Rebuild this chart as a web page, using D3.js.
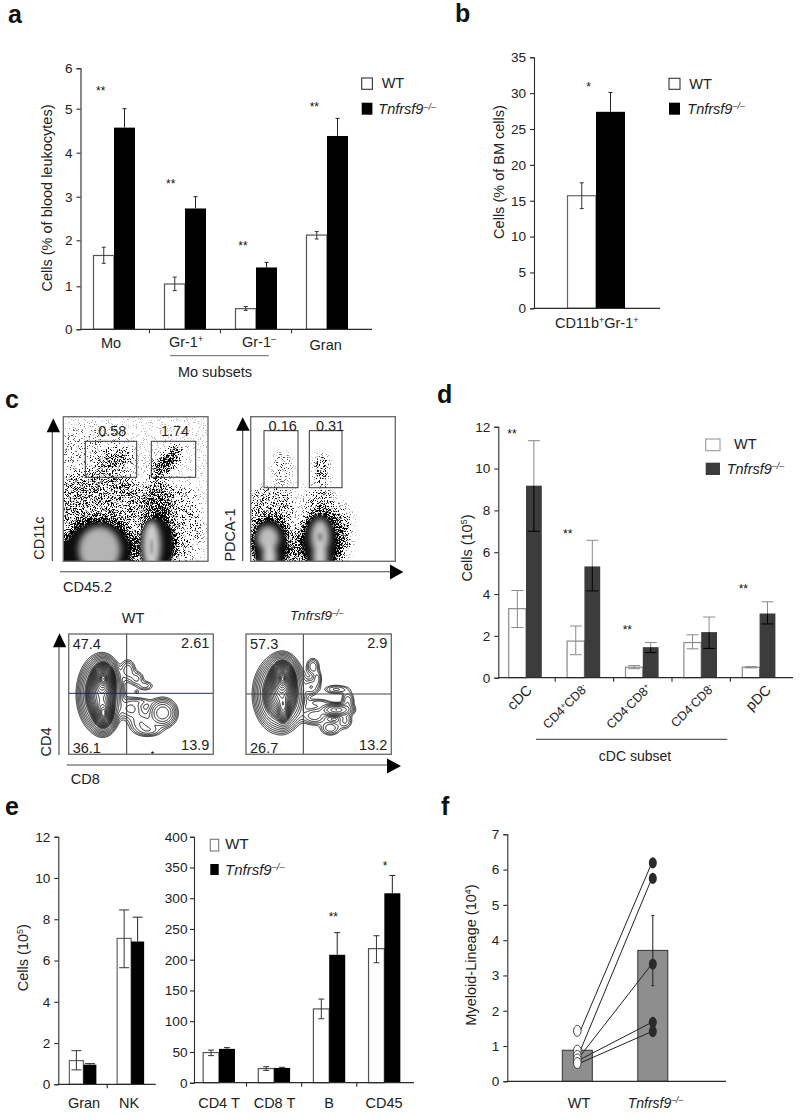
<!DOCTYPE html>
<html><head><meta charset="utf-8">
<style>
html,body{margin:0;padding:0;background:#fff}
svg{display:block}
text{font-family:"Liberation Sans",Arial,sans-serif;fill:#222}
</style>
<script src="https://cdn.jsdelivr.net/npm/d3@7"></script>
</head><body>
<svg id="fig" width="800" height="1119" xmlns="http://www.w3.org/2000/svg"></svg>
<script>
// ---------- DATA ----------
const aCategories = ["Mo","Gr-1+","Gr-1-","Gran"];
const aWT     = [1.67,1.05,0.48,2.12];
const aWTHi   = [1.85,1.20,0.53,2.20];
const aWTLo   = [1.50,0.90,0.44,2.03];
const aKO     = [4.57,2.73,1.41,4.38];
const aKOHi   = [5.00,3.00,1.52,4.78];
const aTicks  = [0,1,2,3,4,5,6];

const bWT = [15.7]; const bWTHi = [17.5]; const bWTLo = [13.9];
const bKO = [27.4]; const bKOHi = [30.1];
const bTicks = [0,5,10,15,20,25,30,35];

const dCategories = ["cDC","CD4+CD8-","CD4-CD8+","CD4-CD8-","pDC"];
const dWT   = [3.30,1.75,0.50,1.68,0.50];
const dWTHi = [4.17,2.47,0.58,2.05,0.53];
const dWTLo = [2.40,1.10,0.43,1.38,0.47];
const dKO   = [9.18,5.32,1.46,2.18,3.07];
const dKOHi = [11.33,6.57,1.68,2.90,3.63];
const dKOLo = [7.00,4.15,1.20,1.40,2.57];
const dTicks = [0,2,4,6,8,10,12];

const e1Categories = ["Gran","NK"];
const e1WT = [1.15,7.07]; const e1WTHi=[1.63,8.45]; const e1WTLo=[0.70,5.65];
const e1KO = [0.95,6.92]; const e1KOHi=[1.00,8.10];
const e1Ticks = [0,2,4,6,8,10,12];

const e2Categories = ["CD4 T","CD8 T","B","CD45"];
const e2WT = [49,23,120,218]; const e2WTHi=[53,26,136,239]; const e2WTLo=[44,20,104,195];
const e2KO = [55,24,208,308]; const e2KOHi=[57,25,244,337];
const e2Ticks = [0,50,100,150,200,250,300,350,400];

const fCategories = ["WT","Tnfrsf9"];
const fMeans = [0.88,3.71];
const fKOHi = 4.70, fKOLo = 2.71;
const fPairsWT = [1.43,0.87,0.72,0.62,0.52];
const fPairsKO = [6.19,5.75,3.32,1.67,1.41];
const fTicks = [0,1,2,3,4,5,6,7];

const cGatesTop = ["0.58","1.74"];
const cGatesPdc = ["0.16","0.31"];
const cWTQuad = ["47.4","2.61","36.1","13.9"];
const cKOQuad = ["57.3","2.9","26.7","13.2"];

// flow plots: density blobs [u, v, radiusU, radiusV, rotation, density] in unit plot space
const cd11cCloud = [
 [.50,.55,.75,.70,0,.07],[.20,.30,.30,.24,0,.12],[.25,.60,.33,.22,0,.42],[.82,.74,.13,.26,0,.24],
 [.657,.60,.09,.17,0,.66],[.345,.30,.12,.06,-10,.55],[.70,.33,.12,.045,-45,1],[.72,.30,.13,.03,-45,1],
 [.24,.92,.27,.23,0,.95],[.645,.88,.135,.22,0,.95],[.12,1,.2,.2,0,.9]];
const cd11cSolid = [[.24,.93,.225,.2,0],[.645,.89,.115,.19,0],[.1,1,.12,.18,0]];
const cd11cGray = [[.25,.92,.145,.16,0,"#b4b4b4"],[.61,.89,.062,.17,0,"#cfcfcf"]];
const cd11cDark = [[.61,.90,.012,.06,0,"#9a9a9a"]];
const pdcaCloud = [
 [.30,.70,.42,.24,0,.08],[.13,.63,.16,.14,0,.34],[.48,.62,.09,.13,0,.34],
 [.49,.37,.04,.11,0,.55],[.215,.35,.065,.11,0,.24],[.62,.80,.08,.18,0,.3],
 [.135,.87,.15,.2,0,.9],[.49,.86,.16,.21,0,.95],[.31,.98,.07,.14,0,.42]];
const pdcaSolid = [[.134,.89,.115,.175,0],[.48,.87,.115,.19,0]];
const pdcaGray = [[.12,.84,.075,.085,0,"#bdbdbd"],[.13,.97,.05,.08,0,"#cfcfcf"],[.48,.83,.065,.12,0,"#c2c2c2"],[.48,.97,.05,.08,0,"#cfcfcf"]];
const pdcaDark = [[.48,.83,.018,.03,0,"#8f8f8f"]];

// contour plots: mixture [u, v, sigmaU, sigmaV, weight] in unit plot space
const wtContour = [
 [.22,.50,.057,.113,1.0],[.24,.37,.036,.062,1.6],[.24,.66,.034,.062,1.0],[.24,.37,.012,.025,1.2],[.24,.66,.012,.03,.5],
 [.65,.655,.048,.058,.16],[.43,.62,.05,.05,.06],[.50,.74,.05,.05,.05],[.56,.80,.05,.03,.04],
 [.41,.30,.03,.05,.05],[.47,.37,.03,.035,.04],[.53,.43,.035,.025,.03],[.50,.56,.05,.02,.02],
 [.47,.48,.013,.013,.016],[.58,.985,.008,.006,.02]];
const koContour = [
 [.235,.50,.065,.113,1.0],[.252,.37,.038,.068,1.8],[.257,.62,.022,.06,.6],[.252,.37,.012,.028,1.2],
 [.62,.63,.055,.026,.2],[.46,.27,.025,.04,.05],[.49,.37,.018,.04,.04],[.45,.44,.03,.04,.05],
 [.62,.46,.05,.022,.04],[.70,.56,.025,.05,.05],[.68,.72,.03,.04,.04],[.58,.78,.04,.035,.05],
 [.47,.68,.05,.04,.07],[.50,.57,.05,.02,.03]];

// ---------- HELPERS ----------
const svg = d3.select("#fig");
svg.append("rect").attr("width",800).attr("height",1119).attr("fill","#fff");
const INK="#2b2b2b";

function rich(g,parts,x,y,opt={}){
  const t=g.append("text").attr("x",x).attr("y",y)
    .attr("font-size",opt.size||14).attr("text-anchor",opt.anchor||"start");
  if(opt.rotate!=null) t.attr("transform",`rotate(${opt.rotate} ${x} ${y})`);
  parts.forEach(p=>{
    if(typeof p==="string"){ t.append("tspan").text(p); return; }
    const s=t.append("tspan").text(p.t);
    if(p.i) s.attr("font-style","italic");
    if(p.sup){ s.attr("font-size",(opt.size||14)*.62).attr("dy",-(opt.size||14)*.32); }
  });
  return t;
}
const sup=(t)=>({t,sup:true});
const koParts=()=>[{t:"Tnfrsf9",i:true},{t:"–/–",i:true,sup:true}];

function yAxis(g,x,y,ticks,pad){
  const ax=g.append("g").attr("transform",`translate(${x},0)`)
    .call(d3.axisLeft(y).tickValues(ticks).tickSize(4).tickSizeOuter(4).tickPadding(pad||4).tickFormat(d3.format("d")));
  ax.selectAll("path,line").attr("stroke",INK).attr("stroke-width",1.1);
  ax.selectAll("text").attr("font-size",13.6).style("font-family",'"Liberation Sans",Arial,sans-serif').style("fill","#222");
}
function xBase(g,band,y0,x0,x1){
  g.append("line").attr("x1",x0).attr("x2",x1).attr("y1",y0).attr("y2",y0).attr("stroke",INK).attr("stroke-width",1.2);
  g.selectAll(null).data(band.domain().slice(1)).join("line")
    .attr("x1",d=>band(d)).attr("x2",d=>band(d)).attr("y1",y0).attr("y2",y0+4).attr("stroke",INK).attr("stroke-width",1.1);
}
function bars(g,cats,band,y,wt,ko,wHi,wLo,kHi,kLo,o){
  const wL=o.wL, wR=o.wR, y0=y(0);
  const rows=cats.map((c,i)=>({c,i}));
  g.selectAll(null).data(rows).join("rect")
    .attr("x",d=>band(d.c)+band.bandwidth()/2-wL).attr("width",wL)
    .attr("y",d=>y(wt[d.i])).attr("height",d=>y0-y(wt[d.i]))
    .attr("fill","#fff").attr("stroke",o.wtStroke||"#555").attr("stroke-width",1.2);
  const wc=d=>band(d.c)+band.bandwidth()/2-wL/2;
  g.selectAll(null).data(rows).join("line")
    .attr("x1",wc).attr("x2",wc).attr("y1",d=>y(wHi[d.i])).attr("y2",d=>y(wLo[d.i]))
    .attr("stroke",o.wtErr||"#333").attr("stroke-width",1);
  [wHi,wLo].forEach(arr=>{
    g.selectAll(null).data(rows).join("line")
      .attr("x1",d=>wc(d)-o.cap).attr("x2",d=>wc(d)+o.cap)
      .attr("y1",d=>y(arr[d.i])).attr("y2",d=>y(arr[d.i]))
      .attr("stroke",o.wtErr||"#333").attr("stroke-width",1);
  });
  g.selectAll(null).data(rows).join("rect")
    .attr("x",d=>band(d.c)+band.bandwidth()/2).attr("width",wR)
    .attr("y",d=>y(ko[d.i])).attr("height",d=>y0-y(ko[d.i]))
    .attr("fill",o.koFill||"#000");
  const kc=d=>band(d.c)+band.bandwidth()/2+wR/2;
  g.selectAll(null).data(rows).join("line")
    .attr("x1",kc).attr("x2",kc).attr("y1",d=>y(kHi[d.i])).attr("y2",d=>y(ko[d.i]))
    .attr("stroke",o.koErr||"#222").attr("stroke-width",1);
  g.selectAll(null).data(rows).join("line")
    .attr("x1",d=>kc(d)-o.cap).attr("x2",d=>kc(d)+o.cap)
    .attr("y1",d=>y(kHi[d.i])).attr("y2",d=>y(kHi[d.i]))
    .attr("stroke",o.koErr||"#222").attr("stroke-width",1);
  if(kLo){
    g.selectAll(null).data(rows).join("line")
      .attr("x1",kc).attr("x2",kc).attr("y1",d=>y(ko[d.i])).attr("y2",d=>y(kLo[d.i]))
      .attr("stroke","#000").attr("stroke-width",1);
    g.selectAll(null).data(rows).join("line")
      .attr("x1",d=>kc(d)-o.cap).attr("x2",d=>kc(d)+o.cap)
      .attr("y1",d=>y(kLo[d.i])).attr("y2",d=>y(kLo[d.i]))
      .attr("stroke","#000").attr("stroke-width",1);
  }
}
function legend(g,bx,bw,yW,hW,yK,hK,wtX,wtY,koX,koY,o={}){
  g.append("rect").attr("x",bx).attr("y",yW).attr("width",bw).attr("height",hW)
    .attr("fill","#fff").attr("stroke",o.stroke||"#333").attr("stroke-width",1.1);
  g.append("rect").attr("x",bx).attr("y",yK).attr("width",bw).attr("height",hK).attr("fill",o.koFill||"#000");
  rich(g,["WT"],wtX,wtY,{size:o.wtSize||14.5});
  rich(g,koParts(),koX,koY,{size:o.koSize||14.5});
}
function stars(g,s,x,y){
  g.append("text").attr("x",x).attr("y",y+4).attr("text-anchor","middle").attr("font-size",12).style("fill","#111").text(s);
}
function panelLetter(t,x,y){
  svg.append("text").attr("x",x).attr("y",y).attr("font-size",25).attr("font-weight","bold").style("fill","#111").text(t);
}
panelLetter("a",8,23);panelLetter("b",455,22);panelLetter("c",5,408);
panelLetter("d",437,403);panelLetter("e",5,815);panelLetter("f",441,815);

// ---------- PANEL a ----------
{
 const g=svg.append("g");
 // the printed axis is slightly uneven, so its ticks are matched one by one
 const y=d3.scaleLinear().domain(aTicks).range([329.3,286.3,240.3,196.7,152.7,108.7,68.3]);
 const x=d3.scaleBand().domain(aCategories).range([78.5,362.5]);
 bars(g,aCategories,x,y,aWT,aKO,aWTHi,aWTLo,aKOHi,null,{wL:20.5,wR:21,cap:2});
 yAxis(g,80.5,y,aTicks,4);
 xBase(g,x,y(0),80.5,372);
 rich(g,["Mo"],111,348,{anchor:"middle",size:14.5});
 rich(g,["Gr-1",sup("+")],186,347,{anchor:"middle",size:14.5});
 rich(g,["Gr-1",sup("–")],259,347,{anchor:"middle",size:14.5});
 rich(g,["Gran"],325.7,350,{anchor:"middle",size:14.5});
 g.append("line").attr("x1",170).attr("x2",268.7).attr("y1",355.7).attr("y2",355.7).attr("stroke","#666").attr("stroke-width",1);
 rich(g,["Mo subsets"],215,376.7,{anchor:"middle",size:14.5});
 rich(g,["Cells (% of blood leukocytes)"],52,198,{anchor:"middle",rotate:-90,size:14.5});
 [["**",100.7,91],["**",170.7,184],["**",243,246],["**",314.3,107]].forEach(s=>stars(g,...s));
 legend(g,361.7,10.7,78,11.3,102.7,12,381.7,88.3,378.3,114.3);
}
// ---------- PANEL b ----------
{
 const g=svg.append("g");
 const y=d3.scaleLinear().domain([0,35]).range([308.3,57.3]);
 const cat=["CD11b+Gr-1+"];
 const x=d3.scaleBand().domain(cat).range([567,625]);
 bars(g,cat,x,y,bWT,bKO,bWTHi,bWTLo,bKOHi,null,{wL:28.5,wR:29,cap:2,wtStroke:"#666"});
 yAxis(g,534,y,bTicks,4);
 g.append("line").attr("x1",534).attr("x2",660).attr("y1",y(0)).attr("y2",y(0)).attr("stroke",INK).attr("stroke-width",1.2);
 rich(g,["CD11b",sup("+"),{t:"Gr-1"},sup("+")],596.7,328,{anchor:"middle",size:14.5}).selectAll("tspan")
   .filter((d,i)=>i===2).attr("dy",14.5*.32);
 rich(g,["Cells (% of BM cells)"],504,172,{anchor:"middle",rotate:-90,size:14.5});
 stars(g,"*",588.7,87);
 legend(g,669,11,78.3,11,102.7,12,689.3,88.7,687.3,114);
}
// ---------- PANEL c ----------
const defs=svg.append("defs");
function speckFilter(id,blur,seed){
 const f=defs.append("filter").attr("id",id).attr("filterUnits","userSpaceOnUse")
   .attr("x",0).attr("y",380).attr("width",420).attr("height",200)
   .attr("color-interpolation-filters","sRGB");
 f.append("feGaussianBlur").attr("in","SourceAlpha").attr("stdDeviation",blur).attr("result","d");
 f.append("feTurbulence").attr("type","fractalNoise").attr("baseFrequency",1.37).attr("numOctaves",1).attr("seed",seed).attr("result","n");
 f.append("feColorMatrix").attr("in","n").attr("type","matrix")
   .attr("values","0 0 0 0 0  0 0 0 0 0  0 0 0 0 0  3.2 0 0 0 -1.1").attr("result","na");
 f.append("feComposite").attr("in","d").attr("in2","na").attr("operator","arithmetic")
   .attr("k1",0).attr("k2",1).attr("k3",1).attr("k4",-1).attr("result","m");
 const t=f.append("feComponentTransfer").attr("in","m").attr("result","hard");
 t.append("feFuncA").attr("type","linear").attr("slope",4).attr("intercept",0);
 f.append("feGaussianBlur").attr("in","hard").attr("stdDeviation",.38);
}
speckFilter("speck1",4,4);speckFilter("speck2",4,11);
const gb=defs.append("filter").attr("id","soft").attr("x","-50%").attr("y","-50%").attr("width","200%").attr("height","200%");
gb.append("feGaussianBlur").attr("stdDeviation",3);
const gb2=defs.append("filter").attr("id","soft2").attr("x","-80%").attr("y","-80%").attr("width","260%").attr("height","260%");
gb2.append("feGaussianBlur").attr("stdDeviation",1.6);

function flowPlot(id,x0,x1,y0,y1,cloud,solid,gray,dark,gates,labels,filter,labelY){
 const u=d3.scaleLinear().domain([0,1]).range([x0,x1]);
 const v=d3.scaleLinear().domain([0,1]).range([y0,y1]);
 defs.append("clipPath").attr("id",id).append("rect").attr("x",x0).attr("y",y0).attr("width",x1-x0).attr("height",y1-y0);
 const outer=svg.append("g").attr("clip-path",`url(#${id})`);
 const ell=(g,rows,fillFn)=>g.selectAll(null).data(rows).join("ellipse")
   .attr("rx",d=>u(d[2])-u(0)).attr("ry",d=>v(d[3])-v(0))
   .attr("transform",d=>`translate(${u(d[0])},${v(d[1])}) rotate(${d[4]})`)
   .attr("fill",fillFn);
 const sp=outer.append("g").attr("filter",`url(#${filter})`);
 ell(sp,cloud,"#000").attr("opacity",d=>d[5]);
 ell(outer.append("g").attr("filter","url(#soft2)"),solid,"#0a0a0a");
 ell(outer.append("g").attr("filter","url(#soft)"),gray,d=>d[5]);
 ell(outer.append("g").attr("filter","url(#soft2)"),dark,d=>d[5]);
 svg.append("rect").attr("x",x0).attr("y",y0).attr("width",x1-x0).attr("height",y1-y0)
   .attr("fill","none").attr("stroke","#6f6f6f").attr("stroke-width",1.4);
 gates.forEach(r=>svg.append("rect").attr("x",r[0]).attr("y",r[2]).attr("width",r[1]-r[0]).attr("height",r[3]-r[2])
   .attr("fill","none").attr("stroke","#333").attr("stroke-width",1));
 labels.forEach(l=>rich(svg,[l[0]],l[1],labelY,{anchor:"middle",size:14.5}));
}
flowPlot("clip1",63.3,208,416.7,561.3,cd11cCloud,cd11cSolid,cd11cGray,cd11cDark,
 [[85.3,136.7,441.3,477.3],[151.3,195.7,441.3,477.3]],
 [[cGatesTop[0],112.3],[cGatesTop[1],175]],"speck1",436);
flowPlot("clip2",250.7,395.3,416.7,561.3,pdcaCloud,pdcaSolid,pdcaGray,pdcaDark,
 [[264,298,430.7,487.7],[309.3,342,430.7,487.7]],
 [[cGatesPdc[0],282.7],[cGatesPdc[1],330]],"speck2",430.7);

function contourPlot(x0,x1,y0,y1,mix,vx,hy,hColor,quad){
 const nx=Math.round((x1-x0)*2), ny=Math.round((y1-y0)*2);
 const vals=new Float64Array(nx*ny);
 for(let j=0;j<ny;j++)for(let i=0;i<nx;i++){
  const a=(i+.5)/nx,b=(j+.5)/ny;
  let s=0;
  mix.forEach(m=>{const dx=(a-m[0])/m[2],dy=(b-m[1])/m[3];s+=m[4]*Math.exp(-.5*(dx*dx+dy*dy));});
  vals[j*nx+i]=s;
 }
 const th=d3.range(0,8).map(k=>.012*Math.pow(1.45,k)).concat(d3.range(0,22).map(k=>.2*Math.pow(1.15,k)));
 const cs=d3.contours().size([nx,ny]).smooth(true).thresholds(th)(vals);
 const proj=d3.geoTransform({point(px,py){this.stream.point(x0+px/2,y0+py/2);}});
 const path=d3.geoPath(proj);
 svg.append("g").selectAll("path").data(cs).join("path").attr("d",path)
   .attr("fill","none").attr("stroke","#111").attr("stroke-width",.95);
 svg.append("line").attr("x1",vx).attr("x2",vx).attr("y1",y0).attr("y2",y1).attr("stroke","#333").attr("stroke-width",1);
 svg.append("line").attr("x1",x0).attr("x2",x1).attr("y1",hy).attr("y2",hy).attr("stroke",hColor).attr("stroke-width",1);
 svg.append("rect").attr("x",x0).attr("y",y0).attr("width",x1-x0).attr("height",y1-y0)
   .attr("fill","none").attr("stroke","#6f6f6f").attr("stroke-width",1.4);
 rich(svg,[quad[0]],x0+4,649,{size:14.5});
 rich(svg,[quad[1]],x1-4,648,{size:14.5,anchor:"end"});
 rich(svg,[quad[2]],x0+4,752.7,{size:14.5});
 rich(svg,[quad[3]],x1-4,750,{size:14.5,anchor:"end"});
}
contourPlot(68.7,213.3,634,754.3,wtContour,126.7,693.3,"#1c2a66",cWTQuad);
contourPlot(246,391.3,634,754.3,koContour,303.3,694,"#444",cKOQuad);

function arrow(pts){ svg.append("path").attr("d",d3.line()(pts)+"Z").attr("fill","#000"); }
function shaft(x1,y1,x2,y2){ svg.append("line").attr("x1",x1).attr("y1",y1).attr("x2",x2).attr("y2",y2).attr("stroke","#444").attr("stroke-width",1.1); }
shaft(52.3,561,52.3,430); arrow([[53.3,418.3],[46.7,432.3],[60,432.3]]);
shaft(242.7,561,242.7,430); arrow([[242.7,417.3],[236,430.7],[249.7,430.7]]);
shaft(60,571.7,392,571.7); arrow([[403.3,572],[390,564.5],[390,579.5]]);
shaft(59,755,59,645); arrow([[59.5,633.3],[53,647.3],[66.3,647.3]]);
shaft(66.7,765,390,765); arrow([[401,766],[387,758.5],[387,773.5]]);
rich(svg,["CD11c"],44,538,{anchor:"middle",rotate:-90,size:14.5});
rich(svg,["PDCA-1"],235,535,{anchor:"middle",rotate:-90,size:14.5});
rich(svg,["CD45.2"],63,592,{size:14.5});
rich(svg,["CD4"],50.7,742,{anchor:"middle",rotate:-90,size:14.5});
rich(svg,["CD8"],70.7,784,{size:14.5});
rich(svg,["WT"],133,623,{anchor:"middle",size:14.5});
rich(svg,koParts(),316.7,620,{anchor:"middle",size:13.5});

// ---------- PANEL d ----------
{
 const g=svg.append("g");
 const y=d3.scaleLinear().domain([0,12]).range([677.7,426.7]);
 const x=d3.scaleBand().domain(dCategories).range([496.8,788.8]);
 bars(g,dCategories,x,y,dWT,dKO,dWTHi,dWTLo,dKOHi,dKOLo,{wL:17.3,wR:15.8,cap:6,koFill:"#3c3c3c",koErr:"#8a8a8a",wtStroke:"#8a8a8a",wtErr:"#8a8a8a"});
 yAxis(g,498.3,y,dTicks,4);
 xBase(g,x,y(0),498.3,793);
 const lab=(parts,cx,size)=>rich(g,parts,cx,691,{anchor:"end",rotate:-45,size});
 lab([dCategories[0]],533,14.5);
 rich(g,["CD4",sup("+"),{t:"CD8"},sup("-")],588.5,689,{anchor:"end",rotate:-45,size:12.5}).selectAll("tspan").filter((d,i)=>i===2).attr("dy",12.5*.32);
 rich(g,["CD4",sup("-"),{t:"CD8"},sup("+")],652,689,{anchor:"end",rotate:-45,size:12.5}).selectAll("tspan").filter((d,i)=>i===2).attr("dy",12.5*.32);
 rich(g,["CD4",sup("-"),{t:"CD8"},sup("-")],715,689,{anchor:"end",rotate:-45,size:12.5}).selectAll("tspan").filter((d,i)=>i===2).attr("dy",12.5*.32);
 lab([dCategories[4]],772,14.5);
 g.append("line").attr("x1",536).attr("x2",727.3).attr("y1",739.3).attr("y2",739.3).attr("stroke","#333").attr("stroke-width",1);
 rich(g,["cDC subset"],635,761,{anchor:"middle",size:14});
 rich(g,["Cells (10",sup("5")],472,548,{anchor:"middle",rotate:-90,size:14.5}).append("tspan").text(")").attr("dy",14.5*.32);
 [["**",512,434],["**",567.7,534],["**",627.3,630],["**",743.3,589]].forEach(s=>stars(g,...s));
 legend(g,705.7,14.3,439,11.7,462.7,12.3,734,449,726.7,474,{stroke:"#999",koFill:"#3c3c3c"});
}
// ---------- PANEL e ----------
{
 const g=svg.append("g");
 const y=d3.scaleLinear().domain([0,12]).range([1084.3,836.7]);
 const x=d3.scaleBand().domain(e1Categories).range([59.5,155]);
 bars(g,e1Categories,x,y,e1WT,e1KO,e1WTHi,e1WTLo,e1KOHi,null,{wL:14,wR:13,cap:5,wtStroke:"#666"});
 yAxis(g,58.3,y,e1Ticks,4);
 xBase(g,x,y(0),58.3,155.7);
 rich(g,[e1Categories[0]],84,1107.7,{anchor:"middle",size:14.5});
 rich(g,[e1Categories[1]],129,1107.7,{anchor:"middle",size:14.5});
 rich(g,["Cells (10",sup("5")],28,957.7,{anchor:"middle",rotate:-90,size:14.5}).append("tspan").text(")").attr("dy",14.5*.32);
}
{
 const g=svg.append("g");
 const y=d3.scaleLinear().domain([0,400]).range([1082.7,836.7]);
 const x=d3.scaleBand().domain(e2Categories).range([191.4,411.9]);
 bars(g,e2Categories,x,y,e2WT,e2KO,e2WTHi,e2WTLo,e2KOHi,null,{wL:15.8,wR:16,cap:3,wtStroke:"#555"});
 yAxis(g,194,y,e2Ticks,2.5);
 xBase(g,x,y(0),194,414);
 const cx=[219,274.5,329,384];
 e2Categories.forEach((c,i)=>rich(g,[c],cx[i],1107.7,{anchor:"middle",size:14.5}));
 stars(g,"**",333.3,917);stars(g,"*",385,866);
 legend(g,210.3,8.4,839.3,11.7,864,11,225.3,849.3,225,875,{stroke:"#777",wtSize:15,koSize:15});
}
// ---------- PANEL f ----------
{
 const g=svg.append("g");
 const y=d3.scaleLinear().domain([0,7]).range([1081.3,834.3]);
 const x=d3.scalePoint().domain(fCategories).range([577.3,652.8]);
 g.selectAll(null).data(fCategories).join("rect")
   .attr("x",d=>x(d)-15).attr("width",30).attr("y",(d,i)=>y(fMeans[i])).attr("height",(d,i)=>y(0)-y(fMeans[i]))
   .attr("fill","#8e8e8e").attr("stroke","#333").attr("stroke-width",1);
 const kx=x(fCategories[1]);
 g.append("line").attr("x1",kx).attr("x2",kx).attr("y1",y(fKOHi)).attr("y2",y(fKOLo)).attr("stroke","#222").attr("stroke-width",1);
 [fKOHi,fKOLo].forEach(v=>g.append("line").attr("x1",kx-1.5).attr("x2",kx+1.5).attr("y1",y(v)).attr("y2",y(v)).attr("stroke","#222"));
 yAxis(g,507.3,y,fTicks,4);
 g.append("line").attr("x1",507.3).attr("x2",726).attr("y1",y(0)).attr("y2",y(0)).attr("stroke",INK).attr("stroke-width",1.2);
 const wx=x(fCategories[0]);
 fPairsWT.forEach((w,i)=>g.append("line").attr("x1",wx+3).attr("y1",y(w)).attr("x2",kx-1).attr("y2",y(fPairsKO[i])).attr("stroke","#222").attr("stroke-width",1));
 g.selectAll(null).data(fPairsWT).join("ellipse").attr("cx",wx).attr("cy",d=>y(d)).attr("rx",3.8).attr("ry",5.5)
   .attr("fill","#fff").attr("stroke","#333").attr("stroke-width",.9);
 g.selectAll(null).data(fPairsKO).join("ellipse").attr("cx",kx).attr("cy",d=>y(d)).attr("rx",4).attr("ry",5.6)
   .attr("fill","#2a2a2a");
 rich(g,["WT"],579,1107.7,{anchor:"middle",size:14.5});
 rich(g,koParts(),655.5,1107.7,{anchor:"middle",size:14});
 rich(g,["Myeloid-Lineage (10",sup("4")],476,955,{anchor:"middle",rotate:-90,size:14.5}).append("tspan").text(")").attr("dy",14.5*.32);
}
</script>
</body></html>
